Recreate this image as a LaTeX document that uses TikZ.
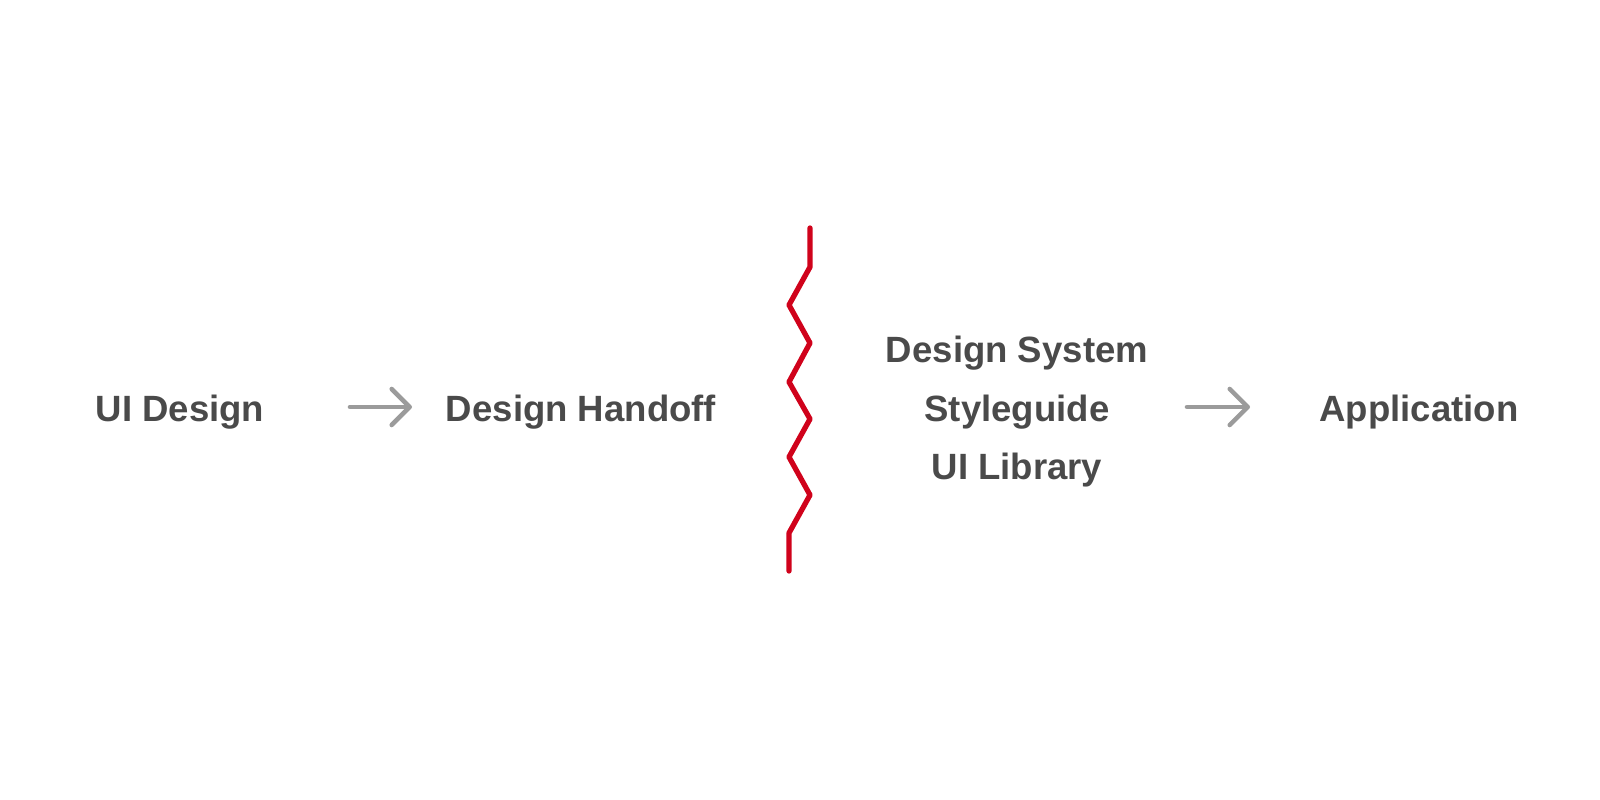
\documentclass[tikz,border=0pt]{standalone}
\usepackage{fontspec}
\setmainfont{Liberation Sans}
\usepackage{xcolor}
\usepackage{tikz}
\usetikzlibrary{arrows.meta}
\definecolor{txtgray}{HTML}{4A4A4A}
\definecolor{arrgray}{HTML}{9B9B9B}
\definecolor{cutred}{HTML}{D0021B}
\tikzstyle{stage} = [text=txtgray, font=\fontsize{10.4}{12}\selectfont\bfseries, inner sep=0pt, anchor=base]
\tikzstyle{flow} = [draw=arrgray, line width=1.3pt, line cap=round, -{Straight Barb[length=1.8mm,width=3.6mm,round]}]
\tikzstyle{cut} = [draw=cutred, line width=1.5pt, line cap=round, line join=round]

\begin{document}
\begin{tikzpicture}
\useasboundingbox (0,0) rectangle (16,8);
% stages
\node [stage] (ui) at (1.80,3.78) {UI Design};
\node [stage] (handoff) at (5.81,3.78) {Design Handoff};
\node [stage] (dsys) at (10.17,4.37) {Design System};
\node [stage] (style) at (10.17,3.78) {Styleguide};
\node [stage] (uilib) at (10.17,3.20) {UI Library};
\node [stage] (app) at (14.19,3.78) {Application};
% arrows
\coordinate (a1s) at (3.50,3.93);
\coordinate (a1e) at (4.12,3.93);
\coordinate (a2s) at (11.87,3.93);
\coordinate (a2e) at (12.50,3.93);
\draw [flow] (a1s) -- (a1e);
\draw [flow] (a2s) -- (a2e);
% break line
\draw [cut] (8.10,5.72) -- (8.10,5.33) -- (7.89,4.95) -- (8.10,4.57) -- (7.89,4.18)
    -- (8.10,3.81) -- (7.89,3.43) -- (8.10,3.05) -- (7.89,2.67) -- (7.89,2.29);
\end{tikzpicture}
\end{document}
